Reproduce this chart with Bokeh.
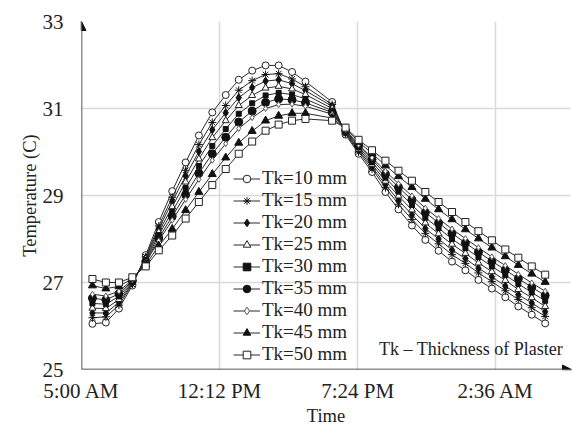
from bokeh.plotting import figure
from bokeh.models import (FixedTicker, Arrow, NormalHead, Label, Legend,
                          LegendItem, Range1d, Title)
from bokeh.embed import file_html
from bokeh.resources import INLINE

# Sample times, hours after midnight of the first day
hours = [5.57, 6.27, 6.95, 7.65, 8.35, 9.03, 9.73, 10.43, 11.12, 11.82,
         12.52, 13.20, 13.90, 14.60, 15.28, 15.98, 16.68, 18.07, 18.77,
         19.45, 20.15, 20.85, 21.53, 22.23, 22.93, 23.62, 24.32, 25.02,
         25.70, 26.40, 27.10, 27.78, 28.48, 29.18]

# Indoor temperature (C) for each plaster thickness
tk10 = [26.05, 26.08, 26.40, 26.93, 27.63, 28.39, 29.10, 29.76, 30.38, 30.91,
        31.31, 31.66, 31.87, 31.99, 31.99, 31.84, 31.62, 31.15, 30.40, 29.96,
        29.54, 29.08, 28.68, 28.31, 27.98, 27.73, 27.48, 27.28, 27.06, 26.86,
        26.66, 26.45, 26.26, 26.06]
tk15 = [26.19, 26.21, 26.48, 26.96, 27.59, 28.30, 28.96, 29.58, 30.17, 30.68,
        31.07, 31.42, 31.64, 31.78, 31.80, 31.68, 31.50, 31.09, 30.42, 30.00,
        29.61, 29.18, 28.80, 28.45, 28.13, 27.89, 27.64, 27.44, 27.22, 27.02,
        26.81, 26.61, 26.42, 26.22]
tk20 = [26.30, 26.30, 26.54, 26.98, 27.57, 28.23, 28.86, 29.45, 30.01, 30.51,
        30.90, 31.25, 31.48, 31.63, 31.66, 31.57, 31.41, 31.05, 30.44, 30.04,
        29.66, 29.25, 28.89, 28.56, 28.24, 28.00, 27.75, 27.55, 27.33, 27.13,
        26.92, 26.72, 26.53, 26.33]
tk25 = [26.41, 26.40, 26.61, 27.00, 27.54, 28.16, 28.74, 29.31, 29.84, 30.33,
        30.72, 31.07, 31.30, 31.47, 31.51, 31.45, 31.32, 31.00, 30.46, 30.07,
        29.72, 29.33, 28.99, 28.67, 28.37, 28.12, 27.88, 27.67, 27.45, 27.25,
        27.05, 26.84, 26.65, 26.45]
tk30 = [26.52, 26.50, 26.68, 27.02, 27.51, 28.09, 28.63, 29.17, 29.68, 30.14,
        30.53, 30.88, 31.12, 31.30, 31.36, 31.32, 31.22, 30.95, 30.47, 30.11,
        29.77, 29.41, 29.09, 28.78, 28.49, 28.25, 28.00, 27.79, 27.58, 27.37,
        27.17, 26.97, 26.77, 26.58]
tk35 = [26.64, 26.60, 26.74, 27.04, 27.48, 28.02, 28.52, 29.02, 29.51, 29.96,
        30.34, 30.69, 30.94, 31.14, 31.22, 31.20, 31.13, 30.91, 30.49, 30.14,
        29.83, 29.49, 29.19, 28.90, 28.61, 28.37, 28.13, 27.91, 27.70, 27.49,
        27.29, 27.09, 26.89, 26.70]
tk40 = [26.73, 26.69, 26.80, 27.06, 27.46, 27.96, 28.43, 28.91, 29.37, 29.81,
        30.19, 30.54, 30.79, 31.00, 31.09, 31.10, 31.05, 30.87, 30.51, 30.17,
        29.87, 29.56, 29.27, 28.99, 28.71, 28.47, 28.23, 28.01, 27.80, 27.59,
        27.39, 27.19, 26.99, 26.80]
tk45 = [26.93, 26.86, 26.91, 27.09, 27.41, 27.84, 28.23, 28.66, 29.08, 29.49,
        29.87, 30.21, 30.48, 30.72, 30.83, 30.89, 30.89, 30.78, 30.54, 30.23,
        29.97, 29.69, 29.44, 29.19, 28.92, 28.68, 28.45, 28.22, 28.01, 27.80,
        27.60, 27.40, 27.20, 27.01]
tk50 = [27.08, 27.00, 27.00, 27.12, 27.37, 27.74, 28.08, 28.47, 28.85, 29.24,
        29.61, 29.96, 30.24, 30.49, 30.63, 30.72, 30.76, 30.72, 30.56, 30.28,
        30.04, 29.80, 29.57, 29.34, 29.08, 28.85, 28.62, 28.39, 28.18, 27.97,
        27.76, 27.57, 27.37, 27.18]

series_labels = ["Tk=10 mm", "Tk=15 mm", "Tk=20 mm", "Tk=25 mm", "Tk=30 mm",
                 "Tk=35 mm", "Tk=40 mm", "Tk=45 mm", "Tk=50 mm"]
series_values = [tk10, tk15, tk20, tk25, tk30, tk35, tk40, tk45, tk50]

x_ticks = [5, 12.2, 19.4, 26.6]
x_tick_labels = ["5:00 AM", "12:12 PM", "7:24 PM", "2:36 AM"]
y_ticks = [25, 27, 29, 31, 33]

# marker, size, fill colour, outline colour for each thickness
marker_styles = [
    ("circle", 7, "white", "#222222"),
    ("asterisk", 8, "#111111", "#111111"),
    ("diamond", 8, "#111111", "#111111"),
    ("triangle", 7, "white", "#222222"),
    ("square", 5, "#111111", "#111111"),
    ("circle", 8, "#111111", "#111111"),
    ("diamond", 6, "white", "#555555"),
    ("triangle", 8, "#111111", "#111111"),
    ("square", 7, "white", "#222222"),
]

SERIF = "Liberation Serif"

p = figure(width=572, height=425, output_backend="svg", toolbar_location=None,
           x_range=Range1d(5, 30.5), y_range=Range1d(25, 33),
           min_border_left=81, min_border_right=2, min_border_top=21,
           min_border_bottom=56)
p.outline_line_color = None
p.background_fill_color = "white"

# axes: tick labels only, the axis lines are drawn as arrows below
p.xaxis.ticker = FixedTicker(ticks=x_ticks)
p.xaxis.major_label_overrides = dict(zip(x_ticks, x_tick_labels))
p.yaxis.ticker = FixedTicker(ticks=y_ticks)
for ax in (p.xaxis, p.yaxis):
    ax.axis_line_color = None
    ax.major_tick_line_color = None
    ax.minor_tick_line_color = None
    ax.major_tick_in = 0
    ax.major_tick_out = 0
    ax.major_label_text_font = SERIF
    ax.major_label_text_font_size = "21px"
    ax.major_label_text_color = "#222222"
p.xaxis.major_label_standoff = 9
p.yaxis.major_label_standoff = 18

p.xgrid.ticker = FixedTicker(ticks=x_ticks)
p.ygrid.ticker = FixedTicker(ticks=y_ticks)
for g in (p.xgrid, p.ygrid):
    g.grid_line_color = "#d9d9d9"
    g.grid_line_width = 1.5

# axis titles
p.add_layout(Title(text="Temperature (C)", align="center", offset=17,
                   standoff=0, text_font=SERIF, text_font_size="18.5px",
                   text_font_style="normal", text_color="#222222"), "left")
p.add_layout(Title(text="Time", align="center", offset=-5, standoff=-4,
                   text_font=SERIF, text_font_size="18.5px",
                   text_font_style="normal", text_color="#222222"), "below")

items = []
for label, vals, (marker, size, fill, edge) in zip(series_labels, series_values,
                                                    marker_styles):
    ln = p.line(hours, vals, line_color="#2a2a2a", line_width=1)
    sc = p.scatter(hours, vals, marker=marker, size=size, fill_color=fill,
                   line_color=edge, line_width=1)
    items.append(LegendItem(label=label, renderers=[ln, sc]))

legend = Legend(items=items, location=(152, 4), padding=0, margin=0,
                spacing=0, glyph_width=27, glyph_height=19, label_height=19,
                label_standoff=2, background_fill_alpha=0,
                border_line_color=None, label_text_font=SERIF,
                label_text_font_size="19px", label_text_color="#222222")
p.add_layout(legend)

# axis lines with arrow heads
p.add_layout(Arrow(end=NormalHead(size=9, fill_color="#111111",
                                  line_color="#111111"),
                   x_start=5, y_start=25, x_end=5, y_end=33,
                   line_color="#222222", line_width=1.5))
p.add_layout(Arrow(end=NormalHead(size=9, fill_color="#111111",
                                  line_color="#111111"),
                   x_start=5, y_start=25, x_end=30.55, y_end=25,
                   line_color="#222222", line_width=1.5))

p.add_layout(Label(x=20.52, y=25.48, text="Tk \u2013 Thickness of Plaster",
                   text_align="left", text_baseline="middle", text_font=SERIF,
                   text_font_size="18px", text_color="#222222"))

open("out.html", "w").write(file_html(p, INLINE))
